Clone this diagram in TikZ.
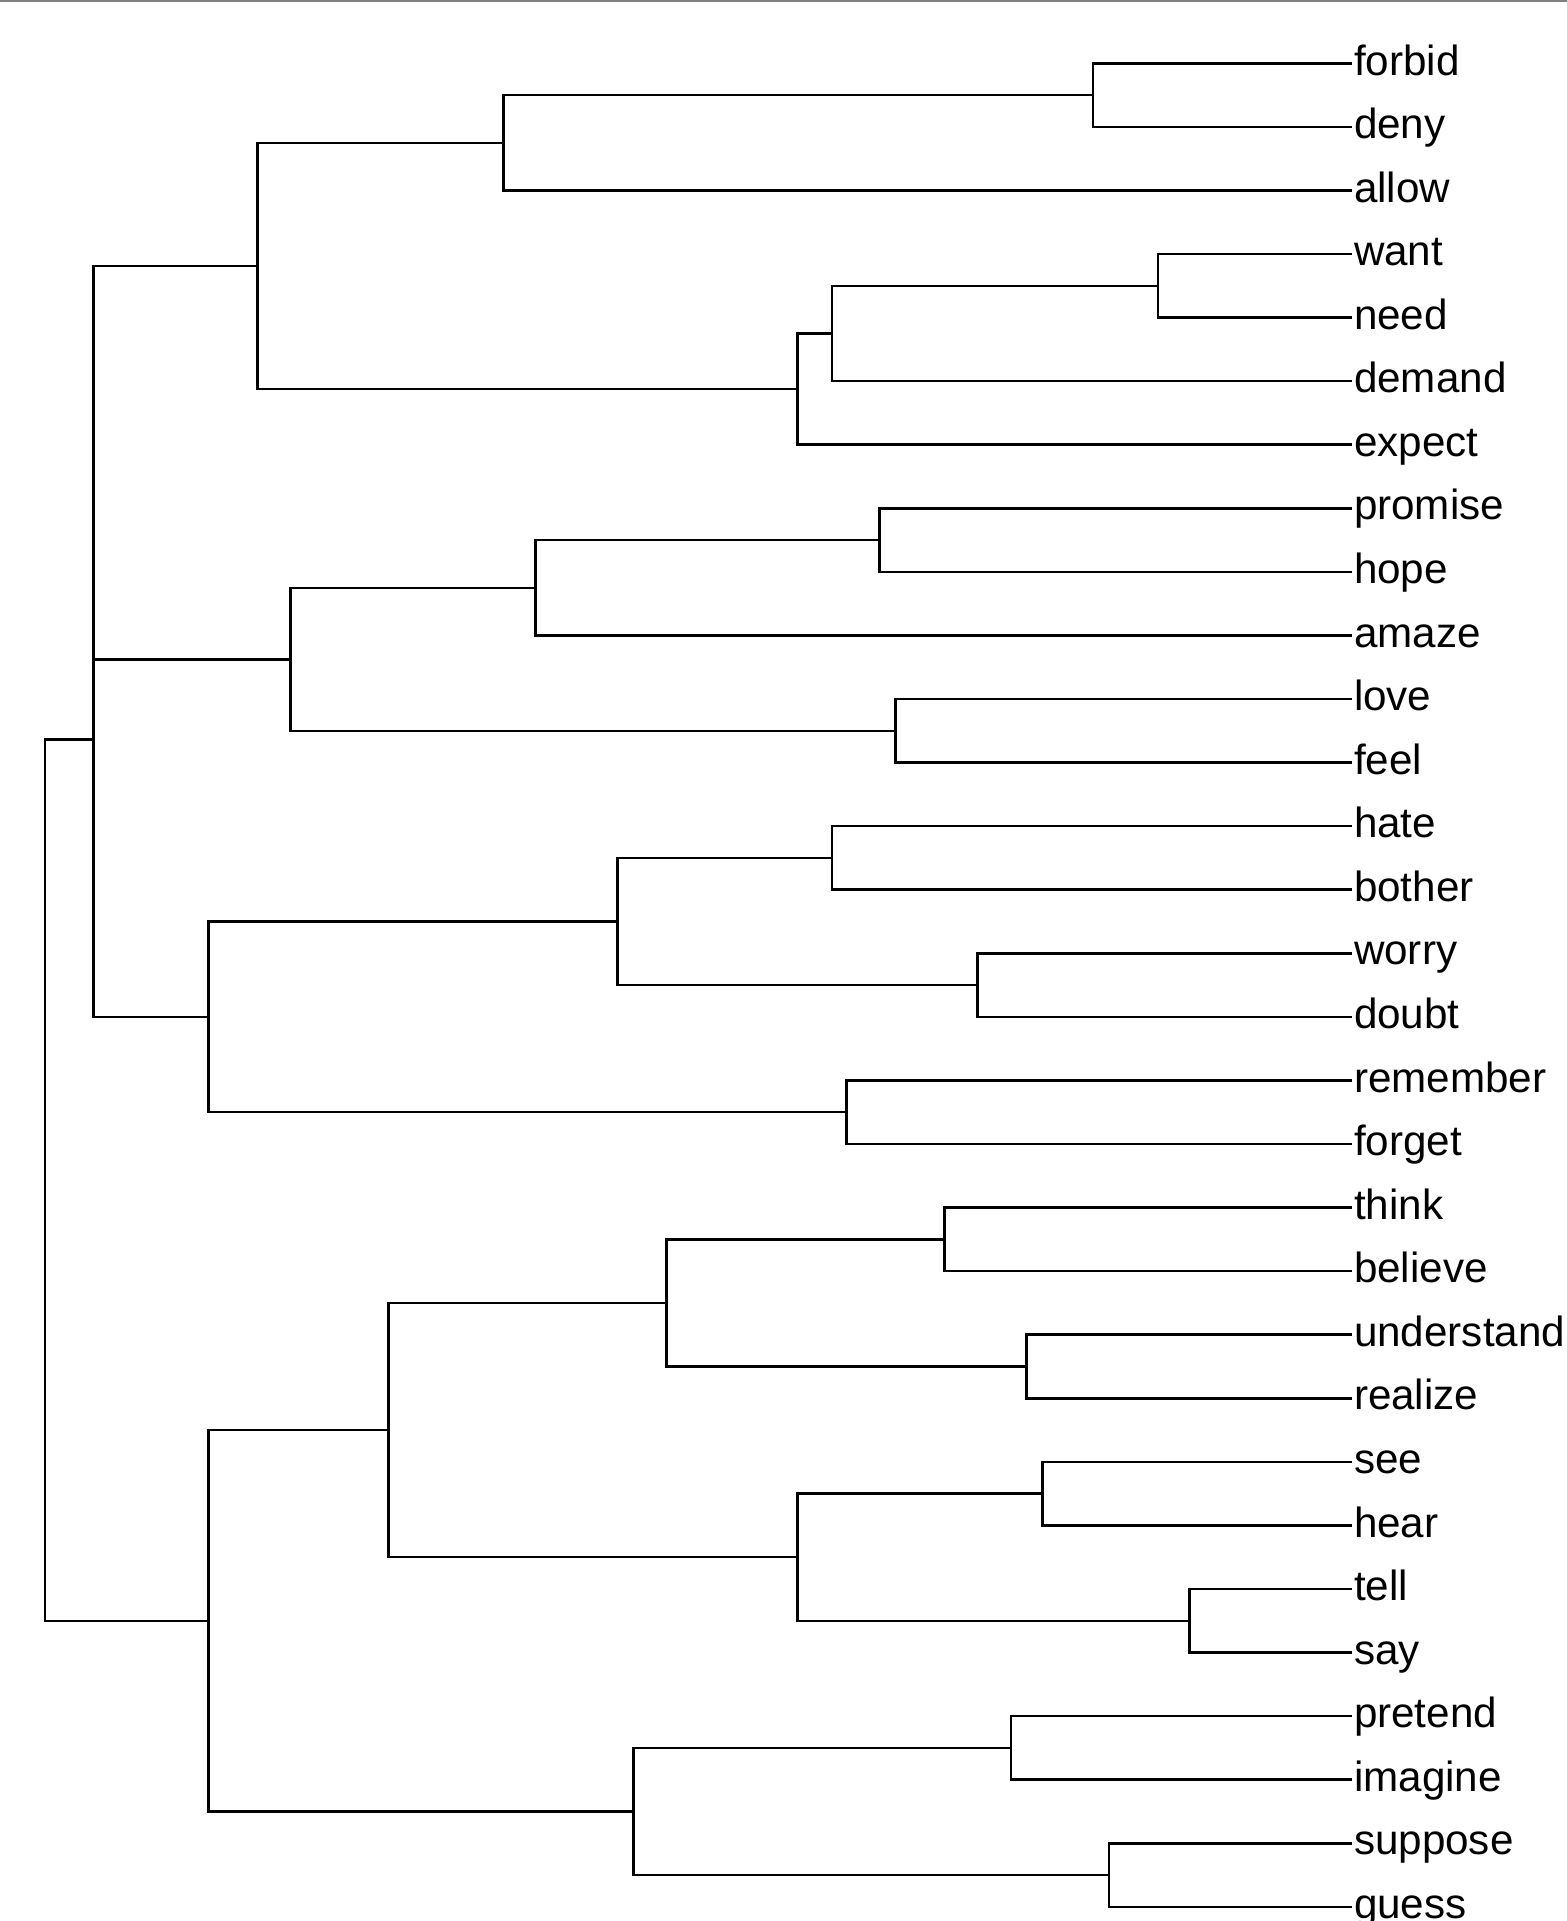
\documentclass[tikz,border=0pt]{standalone}
\usepackage{fontspec}
\setmainfont{Liberation Sans}
\begin{document}
\begin{tikzpicture}[x=0.01cm,y=-0.01cm,
  branch/.style={draw=black,line width=0.7pt,line join=miter},
  leaflabel/.style={anchor=base west,inner sep=0pt,outer sep=0pt,
    font=\fontsize{12pt}{14pt}\selectfont}]
\useasboundingbox (0,0) rectangle (1567,1921);
% thin rule along the top edge
\draw[draw=black!50,line width=0.5pt] (0,0.7) -- (1567,0.7);

% leaves: end of each leaf branch and its label
\foreach \w [count=\i from 0] in {forbid,deny,allow,want,need,demand,expect,
  promise,hope,amaze,love,feel,hate,bother,worry,doubt,remember,forget,
  think,believe,understand,realize,see,hear,tell,say,pretend,imagine,
  suppose,guess} {
  \coordinate (\w) at (1352,{63.3+63.57*\i});
  \node[leaflabel] (t-\w) at (1354,{75.0+63.57*\i}) {\w};
}

% merge points (height, vertical position)
\coordinate (n1)  at (1092.9,  95.1);
\coordinate (n2)  at ( 503.6, 142.75);
\coordinate (n3)  at (1157.8, 285.8);
\coordinate (n4)  at ( 831.9, 333.5);
\coordinate (n5)  at ( 797.6, 389.1);
\coordinate (n6)  at ( 257.3, 265.9);
\coordinate (n7)  at ( 879.7, 540.1);
\coordinate (n8)  at ( 535.4, 587.75);
\coordinate (n9)  at ( 895.6, 730.8);
\coordinate (n10) at ( 290.4, 659.3);
\coordinate (n16) at (  93.3, 462.6);
\coordinate (n11) at ( 831.9, 857.9);
\coordinate (n12) at ( 977.7, 985.1);
\coordinate (n13) at ( 617.5, 921.5);
\coordinate (n14) at ( 846.6,1112.2);
\coordinate (n15) at ( 208.5,1016.85);
\coordinate (n17) at (  93.3, 739.7);
\coordinate (n18) at ( 944.6,1239.35);
\coordinate (n19) at (1026.7,1366.5);
\coordinate (n20) at ( 666.5,1302.9);
\coordinate (n21) at (1042.6,1493.6);
\coordinate (n22) at (1189.7,1620.8);
\coordinate (n23) at ( 797.6,1557.2);
\coordinate (n24) at ( 388.4,1430.05);
\coordinate (n25) at (1010.8,1747.9);
\coordinate (n26) at (1108.8,1875.05);
\coordinate (n27) at ( 633.4,1811.5);
\coordinate (n28) at ( 208.5,1620.8);
\coordinate (root) at ( 45.0,1180.25);

% elbow connectors from each merge point to its two children
\foreach \p/\c in {n1/forbid,n1/deny,n2/n1,n2/allow,
  n3/want,n3/need,n4/n3,n4/demand,n5/n4,n5/expect,n6/n2,n6/n5,
  n7/promise,n7/hope,n8/n7,n8/amaze,n9/love,n9/feel,n10/n8,n10/n9,
  n16/n6,n16/n10,
  n11/hate,n11/bother,n12/worry,n12/doubt,n13/n11,n13/n12,
  n14/remember,n14/forget,n15/n13,n15/n14,n17/n16,n17/n15,
  n18/think,n18/believe,n19/understand,n19/realize,n20/n18,n20/n19,
  n21/see,n21/hear,n22/tell,n22/say,n23/n21,n23/n22,n24/n20,n24/n23,
  n25/pretend,n25/imagine,n26/suppose,n26/guess,n27/n25,n27/n26,
  n28/n24,n28/n27,root/n17,root/n28}
  \draw[branch] (\p) |- (\c);
\end{tikzpicture}
\end{document}
